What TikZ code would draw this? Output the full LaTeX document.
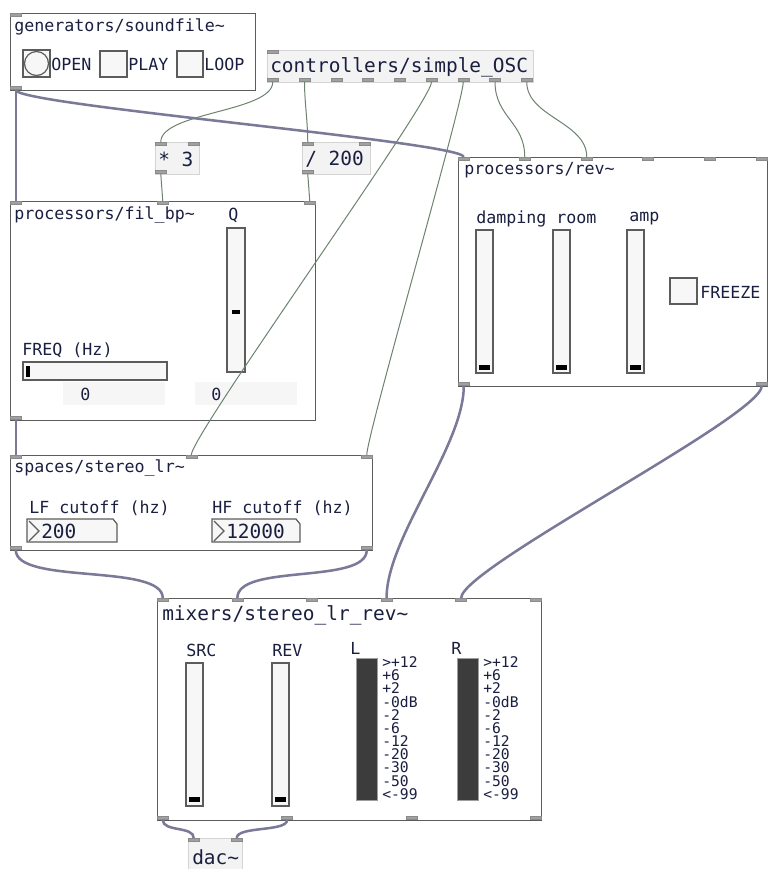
\documentclass[tikz,border=0pt]{standalone}
\usepackage{fontspec}
\newfontfamily\pdfont{DejaVu Sans Mono}
\definecolor{gopline}{HTML}{5C5C5C}
\definecolor{objline}{HTML}{D4D4D4}
\definecolor{objfill}{HTML}{F3F3F3}
\definecolor{portfill}{HTML}{A0A0A0}
\definecolor{portline}{HTML}{8A8A8A}
\definecolor{ctlwire}{HTML}{6E836F}
\definecolor{sigwire}{HTML}{7A7A98}
\definecolor{pdtext}{HTML}{1A1F40}
\definecolor{meter}{HTML}{3C3C3C}
\definecolor{numfill}{HTML}{F6F6F6}
\begin{document}
\begin{tikzpicture}[x=0.75pt,y=-0.75pt,
  wh/.style 2 args={minimum width=#1*0.75pt,minimum height=#2*0.75pt},
  gop/.style={draw=gopline,fill=white,line width=1.1pt,inner sep=0pt,anchor=north west},
  obj/.style={draw=objline,fill=objfill,line width=0.75pt,inner sep=0pt,anchor=north west},
  inlet/.style={draw=portline,fill=portfill,line width=0.4pt,inner sep=0pt,wh={11}{3},anchor=north west},
  outlet/.style={inlet,anchor=south west},
  ctl/.style={ctlwire,line width=0.75pt},
  sig/.style={sigwire,line width=1.9pt},
  lbl/.style={text=pdtext,font=\pdfont\fontsize{12.5}{14}\selectfont,inner sep=0pt,anchor=west},
  big/.style={lbl,font=\pdfont\fontsize{14.6}{17}\selectfont},
  meterlbl/.style={lbl,font=\pdfont\fontsize{11}{12}\selectfont},
  widget/.style={draw=gopline,fill=white!97!black,line width=0.9pt}]
\fill[white] (0,0) rectangle (768,869);
\useasboundingbox (0,0) rectangle (768,869);

% boxes
\node[gop,wh={245}{77}] (sndfile) at (10,13) {};
\node[obj,wh={266}{32}] (oscctl) at (267,50) {};
\node[obj,wh={44}{32}] (mul) at (155,142) {};
\node[obj,wh={68}{32}] (divide) at (302,142) {};
\node[gop,wh={305}{219}] (filbp) at (10,201) {};
\node[gop,wh={309}{229}] (rev) at (458,157) {};
\node[gop,wh={362}{95}] (stereo) at (10,455) {};
\node[gop,wh={384}{222}] (mixer) at (157,598) {};
\node[obj,wh={54}{40}] (dac) at (188,838) {};

% generators/soundfile~
\node[lbl] at (14,27) {generators/soundfile\textasciitilde};
\draw[widget] (23,50) rectangle (50,77);
\draw[widget] (36.5,63.5) circle[radius=9pt];
\draw[widget] (100,51) rectangle (127,77);
\draw[widget] (177,51) rectangle (203,77);
\node[lbl] at (51,64) {OPEN};
\node[lbl] at (128,64) {PLAY};
\node[lbl] at (204,64) {LOOP};

% objects
\node[big] at (270,67) {controllers/simple\_OSC};
\node[big] at (158,159) {* 3};
\node[big] at (305,159) {/ 200};
\node[big] at (192,857) {dac\textasciitilde};

% processors/fil_bp~
\node[lbl] at (14,215) {processors/fil\_bp\textasciitilde};
\node[lbl] at (228,215) {Q};
\draw[widget] (227,228) rectangle (245,372);
\fill (232,310) rectangle (240,314);
\node[lbl] at (22,350) {FREQ (Hz)};
\draw[widget] (23,362) rectangle (167,380);
\fill (26,366) rectangle (30,377);
\fill[numfill] (63,382) rectangle (165,405);
\fill[numfill] (195,382) rectangle (297,405);
\node[lbl] at (80,394) {0};
\node[lbl] at (211,394) {0};

% processors/rev~
\node[lbl] at (464,170) {processors/rev\textasciitilde};
\foreach \x/\lx/\t in {476/476/damping,553/556/room,627/629/amp} {
  \node[lbl] at (\lx,219) {\t};
  \draw[widget] (\x,230) rectangle +(17,143);
  \fill (\x+3,365) rectangle +(11,5);
}
\draw[widget] (670,278) rectangle (697,304);
\node[lbl] at (700,292) {FREEZE};

% spaces/stereo_lr~
\node[lbl] at (14,468) {spaces/stereo\_lr\textasciitilde};
\node[lbl] at (29,508) {LF cutoff (hz)};
\node[lbl] at (212,508) {HF cutoff (hz)};
\foreach \x/\w/\v in {27/90/200,212/88/12000} {
  \draw[widget] (\x,519) -- ++(\w-4,0) -- ++(4,5) -- ++(0,18) -- ++(-\w,0) -- cycle;
  \draw[gopline,line width=0.9pt] (\x+2,521) -- (\x+12,531) -- (\x+2,541);
  \node[big] at (\x+14,531) {\v};
}

% mixers/stereo_lr_rev~
\node[big] at (162,615) {mixers/stereo\_lr\_rev\textasciitilde};
\node[lbl] at (186,650) {SRC};
\node[lbl] at (272,650) {REV};
\foreach \x in {186,272} {
  \draw[widget] (\x,663) rectangle +(17,143);
  \fill (\x+3,797) rectangle +(11,5);
}
\foreach \x/\c in {356/L,457/R} {
  \node[lbl] at (\x-6,648) {\c};
  \filldraw[fill=meter,draw=gopline!60] (\x,658) rectangle +(21,142);
  \foreach \s [count=\k from 0] in {>+12,+6,+2,-0dB,-2,-6,-12,-20,-30,-50,<-99}
    \node[meterlbl] at (\x+26,662+13.2*\k) {\s};
}

% inlets and outlets
\node[inlet] (sndfilein) at (10,13) {};
\node[outlet] (sndfileout) at (10,90) {};
\node[inlet] (oscctlin) at (267,50) {};
\foreach \i in {1,...,9}
  \node[outlet] (oscctlout\i) at ({267+(\i-1)*31.75},82) {};
\node[inlet] (mulin1) at (155,142) {};
\node[inlet] (mulin2) at (188,142) {};
\node[outlet] (mulout) at (155,174) {};
\node[inlet] (dividein1) at (302,142) {};
\node[inlet] (dividein2) at (359,142) {};
\node[outlet] (divideout) at (302,174) {};
\foreach \x [count=\i] in {10,157,304}
  \node[inlet] (filbpin\i) at (\x,201) {};
\node[outlet] (filbpout) at (10,420) {};
\foreach \x [count=\i] in {458,519,581,642,704,756}
  \node[inlet] (revin\i) at (\x,157) {};
\node[outlet] (revout1) at (458,386) {};
\node[outlet] (revout2) at (756,386) {};
\foreach \x [count=\i] in {10,185.5,361}
  \node[inlet] (stereoin\i) at (\x,455) {};
\node[outlet] (stereoout1) at (10,550) {};
\node[outlet] (stereoout2) at (361,550) {};
\foreach \i in {1,...,6}
  \node[inlet] (mixerin\i) at ({157+(\i-1)*74.6},598) {};
\foreach \i in {1,...,4}
  \node[outlet] (mixerout\i) at ({157+(\i-1)*124.33},820) {};
\node[inlet] (dacin1) at (188,838) {};
\node[inlet] (dacin2) at (231,838) {};

% control wires
\draw[ctl] (oscctlout1.south) .. controls +(0,30) and +(0,-30) .. (mulin1.north);
\draw[ctl] (oscctlout2.south) .. controls +(0,20) and +(0,-20) .. (dividein1.north);
\draw[ctl] (oscctlout6.south) .. controls +(0,20) and +(0,-20) .. (stereoin2.north);
\draw[ctl] (oscctlout7.south) .. controls +(0,20) and +(0,-20) .. (stereoin3.north);
\draw[ctl] (oscctlout8.south) .. controls +(0,35) and +(0,-35) .. (revin2.north);
\draw[ctl] (oscctlout9.south) .. controls +(0,35) and +(0,-35) .. (revin3.north);
\draw[ctl] (mulout.south) -- (filbpin2.north);
\draw[ctl] (divideout.south) -- (filbpin3.north);

% signal wires
\draw[sig] (sndfileout.south) -- (filbpin1.north);
\draw[sig] (sndfileout.south) .. controls +(0,15) and +(0,-15) .. (revin1.north);
\draw[sig] (filbpout.south) -- (stereoin1.north);
\draw[sig] (stereoout1.south) .. controls +(0,35) and +(0,-35) .. (mixerin1.north);
\draw[sig] (stereoout2.south) .. controls +(0,35) and +(0,-35) .. (mixerin2.north);
\draw[sig] (revout1.south) .. controls +(0,60) and +(0,-60) .. (mixerin4.north);
\draw[sig] (revout2.south) .. controls +(0,30) and +(0,-30) .. (mixerin5.north);
\draw[sig] (mixerout1.south) .. controls +(0,12) and +(0,-12) .. (dacin1.north);
\draw[sig] (mixerout2.south) .. controls +(0,12) and +(0,-12) .. (dacin2.north);
\end{tikzpicture}
\end{document}
